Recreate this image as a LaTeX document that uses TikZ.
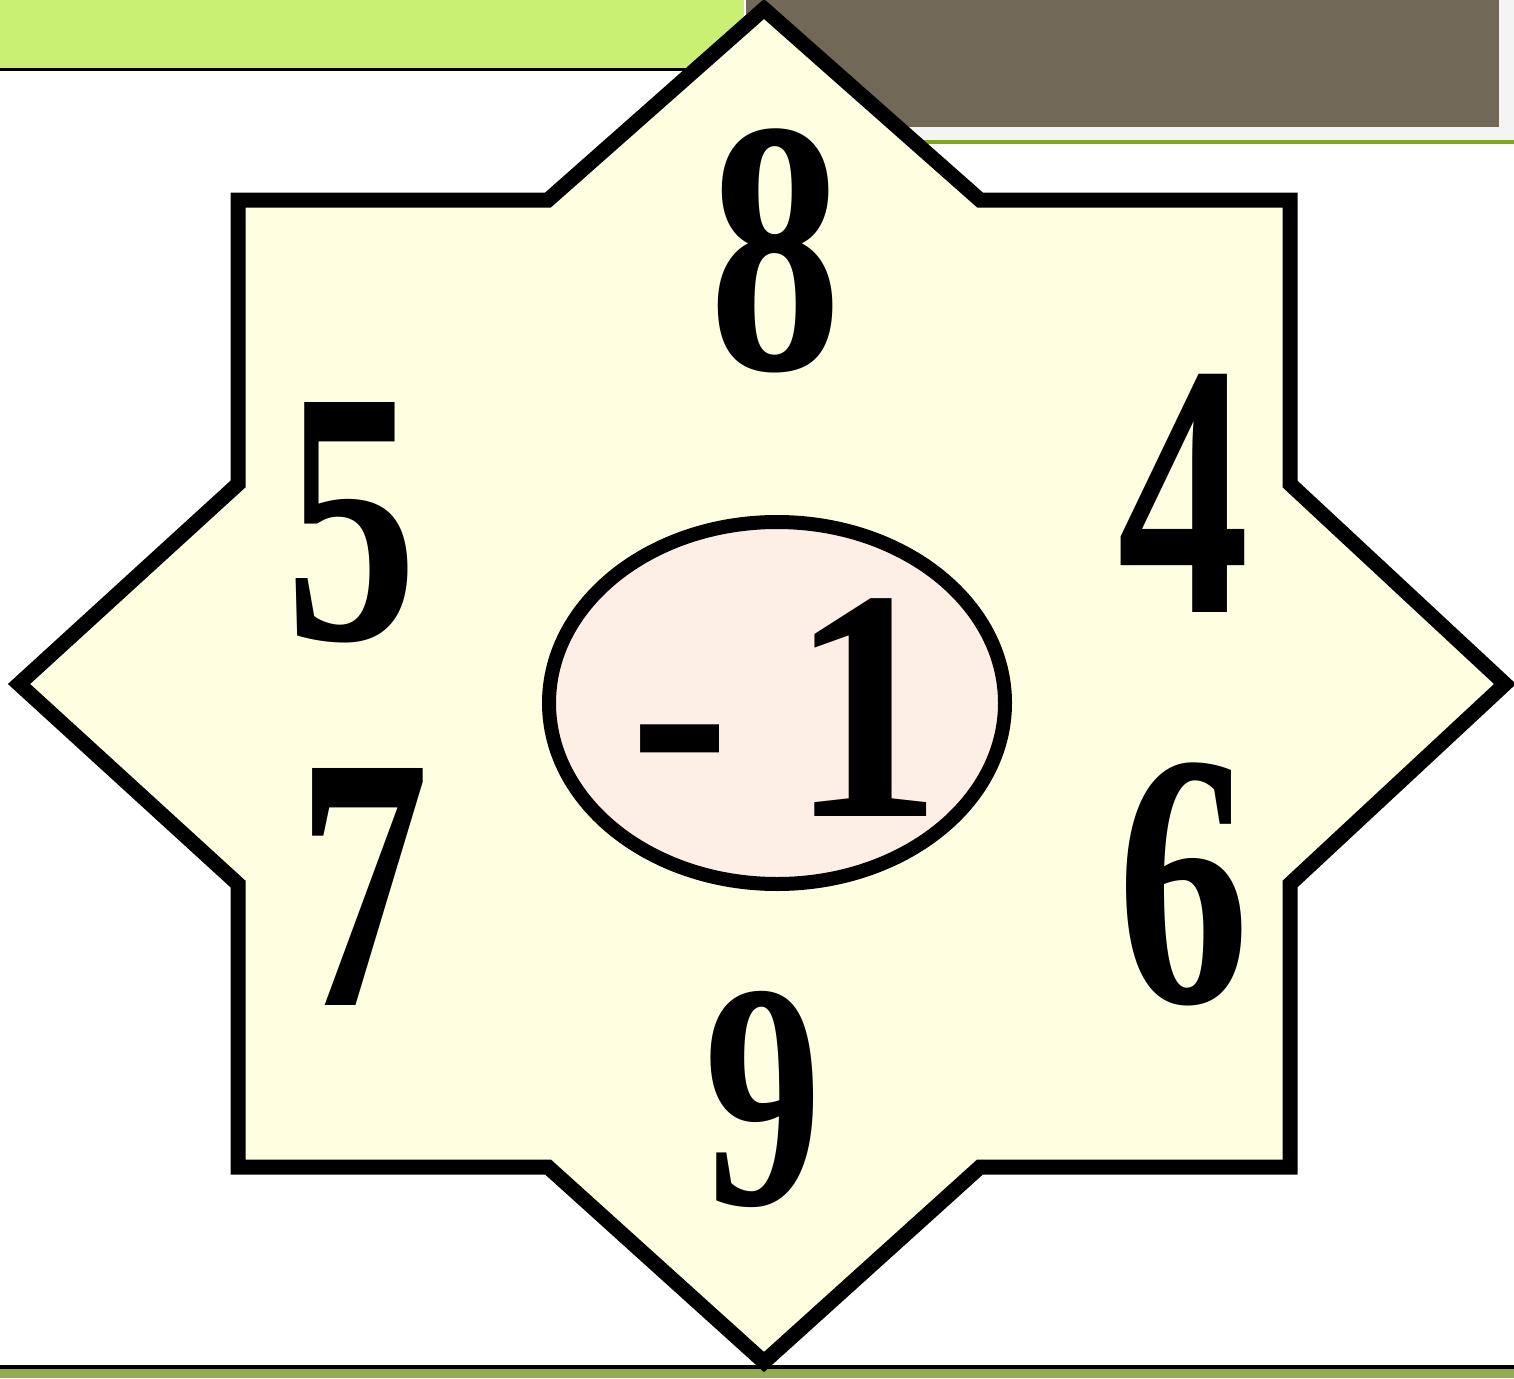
\documentclass[tikz,border=0pt]{standalone}
\usepackage{fontspec}
\setmainfont{Liberation Serif}
\definecolor{limebar}{HTML}{C9F072}
\definecolor{brownbox}{HTML}{726858}
\definecolor{greybox}{HTML}{F4F4F4}
\definecolor{greenline}{HTML}{7DA81E}
\definecolor{bottomgreen}{HTML}{8FAE50}
\definecolor{starfill}{HTML}{FEFFE0}
\definecolor{ovalfill}{HTML}{FDEEE6}
\tikzset{
  numlabel/.style={anchor=base,inner sep=0pt,font=\bfseries\fontsize{362}{362}\selectfont},
  numsmall/.style={anchor=base,inner sep=0pt,font=\bfseries\fontsize{322}{322}\selectfont},
  numcenter/.style={anchor=base,inner sep=0pt,font=\bfseries\fontsize{330}{330}\selectfont},
}
\newcommand{\narrow}[1]{\scalebox{0.73}[1]{#1}}
\begin{document}
\begin{tikzpicture}[x=1pt,y=-1pt]
\useasboundingbox (0,0) rectangle (1514,1378);
\clip (0,0) rectangle (1514,1378);
\fill[white] (0,0) rectangle (1514,1378);
% top left lime bar
\fill[limebar] (0,0) rectangle (744,68);
\fill[black] (0,68) rectangle (744,71);
% top right grey / brown
\fill[greybox] (746,0) rectangle (1514,140);
\fill[brownbox] (746,0) rectangle (1499,127);
\fill[greenline] (746,140) rectangle (1514,144);
% bottom bar
\fill[black] (0,1365) rectangle (1514,1369);
\fill[bottomgreen] (0,1369) rectangle (1514,1378);
% star
\draw[line width=15pt,fill=starfill,miter limit=20,line join=miter] (238,200) -- (548,200) -- (764,9) -- (980,200) -- (1290,200) -- (1290,484) -- (1505,684) -- (1290,884) -- (1290,1167) -- (980,1167) -- (764,1362) -- (548,1167) -- (238,1167) -- (238,884) -- (19,684) -- (238,484) -- cycle;
% oval
\draw[line width=14pt,fill=ovalfill] (777,703) ellipse [x radius=228, y radius=181];
% numbers
\node[numlabel] (n8) at (776,369) {\narrow{8}};
\node[numlabel] (n5) at (352,639) {\narrow{5}};
\node[numlabel] (n4) at (1184,612) {\narrow{4}};
\node[numlabel] (n7) at (364,1005) {\narrow{7}};
\node[numlabel] (n6) at (1184,1002) {\narrow{6}};
\node[numsmall] (n9) at (763,1204) {\narrow{9}};
\node[numcenter] (nm1) at (786,816) {\scalebox{0.92}[1]{-\hspace{0.2em}1}};
\end{tikzpicture}
\end{document}
